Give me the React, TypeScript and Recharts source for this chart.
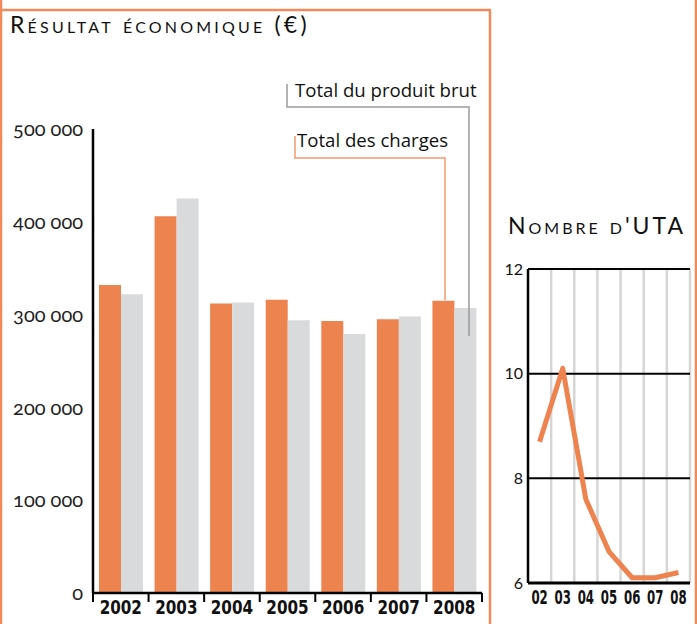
import { Bar, BarChart, CartesianGrid, Line, LineChart, XAxis, YAxis } from 'recharts';

const years = ['2002', '2003', '2004', '2005', '2006', '2007', '2008'];
const charges = [332000, 406000, 312000, 316000, 293000, 295000, 315000];
const produitBrut = [322000, 425000, 313000, 294000, 279000, 298000, 307000];
const resultTicks = [0, 100000, 200000, 300000, 400000, 500000];

const utaYears = ['02', '03', '04', '05', '06', '07', '08'];
const uta = [8.7, 10.1, 7.6, 6.6, 6.1, 6.1, 6.2];
const utaTicks = [6, 8, 10, 12];

const ORANGE = '#ED834F';
const GREY = '#D9DADC';
const FRAME = '#F08A5B';

const resultRows = years.map((year, i) => ({
    year,
    charges : charges[i],
    produit : produitBrut[i]
}));
const utaRows = utaYears.map((year, i) => ({ year, uta: uta[i] }));

const fmt = (v: number) => String(v).replace(/\B(?=(\d{3})+(?!\d))/g, ' ');

function YearTick(props: any) {
    const { x, y, payload, index } = props;
    const off = payload && payload.offset ? payload.offset : 27.8;
    return (
        <g>
            <line x1={x - off} y1={y} x2={x - off} y2={y + 9} stroke="#000" strokeWidth={2} />
            {index === years.length - 1 && (
                <line x1={x + off} y1={y} x2={x + off} y2={y + 9} stroke="#000" strokeWidth={2} />
            )}
            <text
                transform={`translate(${x},${y + 21}) scale(0.8,1)`}
                textAnchor="middle"
                fontFamily="'DejaVu Sans', sans-serif"
                fontWeight="bold"
                fontSize={19}
                fill="#111"
            >
                {payload.value}
            </text>
        </g>
    );
}

function ShortYearTick(props: any) {
    const { x, y, payload } = props;
    return (
        <text
            transform={`translate(${x},${y + 21}) scale(0.62,1)`}
            textAnchor="middle"
            fontFamily="'DejaVu Sans', sans-serif"
            fontWeight="bold"
            fontSize={19}
            fill="#111"
        >
            {payload.value}
        </text>
    );
}

// left chart plot: x 93 -> 482, y 129 -> 593
function ResultChart() {
    return (
        <BarChart
            width={490}
            height={624}
            data={resultRows}
            margin={{ top: 129, right: 8, bottom: 0, left: 0 }}
            barGap={0}
            barSize={22}
            style={{ position: 'absolute', left: 0, top: 0 }}
        >
            <XAxis
                dataKey="year"
                height={31}
                axisLine={{ stroke: '#000', strokeWidth: 2.5 }}
                tickLine={false}
                tickSize={0}
                tickMargin={0}
                interval={0}
                tick={<YearTick />}
            />
            <YAxis
                domain={[0, 500000]}
                ticks={resultTicks}
                width={93}
                axisLine={{ stroke: '#000', strokeWidth: 2.5 }}
                tickLine={false}
                tickSize={0}
                tickMargin={10}
                tickFormatter={fmt}
                tick={{
                    fill: '#222',
                    fontSize: 20,
                    fontFamily: 'Lato, sans-serif',
                    style: { fontVariantNumeric: 'oldstyle-nums' }
                }}
            />
            <Bar dataKey="charges" fill={ORANGE} isAnimationActive={false} />
            <Bar dataKey="produit" fill={GREY} isAnimationActive={false} />
        </BarChart>
    );
}

// right chart plot: x 528 -> 690, y 269 -> 583
function UtaChart() {
    const plotLeft = 38;
    const plotW = 162;
    const half = plotW / 14;
    const gridX = [1, 2, 3, 4, 5, 6, 7].map((i) => plotLeft + (plotW * i) / 7);
    return (
        <LineChart
            width={207}
            height={424}
            data={utaRows}
            margin={{ top: 69, right: 7, bottom: 0, left: 0 }}
            style={{ position: 'absolute', left: 490, top: 200 }}
        >
            <CartesianGrid
                horizontal={false}
                verticalPoints={gridX}
                stroke="#D6D6D6"
                strokeWidth={2.5}
            />
            <CartesianGrid vertical={false} stroke="#000" strokeWidth={2} />
            <XAxis
                dataKey="year"
                height={41}
                interval={0}
                padding={{ left: half, right: half }}
                axisLine={{ stroke: '#000', strokeWidth: 3 }}
                tickLine={false}
                tickSize={0}
                tickMargin={0}
                tick={<ShortYearTick />}
            />
            <YAxis
                domain={[6, 12]}
                ticks={utaTicks}
                width={38}
                axisLine={{ stroke: '#000', strokeWidth: 2.5 }}
                tickLine={false}
                tickSize={0}
                tickMargin={5}
                tick={{ fill: '#111', fontSize: 16, fontFamily: 'Lato, sans-serif' }}
            />
            <Line
                dataKey="uta"
                stroke={ORANGE}
                strokeWidth={5}
                dot={false}
                strokeLinejoin="round"
                isAnimationActive={false}
            />
        </LineChart>
    );
}

function Overlay() {
    const titleStyle = {
        fontFamily: 'Lato, sans-serif',
        fontVariant: 'small-caps'
    };
    return (
        <svg
            width={697}
            height={624}
            style={{ position: 'absolute', left: 0, top: 0, pointerEvents: 'none' }}
        >
            <g stroke={FRAME} strokeWidth={2.5} fill="none">
                <line x1={1} y1={0} x2={1} y2={624} />
                <line x1={0} y1={10} x2={491} y2={10} />
                <line x1={490} y1={10} x2={490} y2={624} />
                <line x1={696} y1={0} x2={696} y2={624} />
            </g>
            <text x={10} y={33} fontSize={23} fill="#111" letterSpacing={3.2} style={titleStyle}>
                Résultat économique (€)
            </text>
            <text x={508} y={234} fontSize={23} fill="#111" letterSpacing={3} style={titleStyle}>
                Nombre d'UTA
            </text>

            <polyline points="287,84 287,107 469,107 469,336" fill="none" stroke="#9A9A9A" strokeWidth={1.5} />
            <polyline points="295,136 295,158 445,158 445,300" fill="none" stroke="#F29A70" strokeWidth={1.5} />
            <text x={295} y={97} fontSize={18.6} fill="#111" fontFamily="'Open Sans', sans-serif">
                Total du produit brut
            </text>
            <text x={297} y={147} fontSize={18.6} fill="#111" fontFamily="'Open Sans', sans-serif">
                Total des charges
            </text>
        </svg>
    );
}

export default function App() {
    return (
        <div style={{ position: 'absolute', left: 0, top: 0, width: 697, height: 624, background: '#fff' }}>
            <ResultChart />
            <UtaChart />
            <Overlay />
        </div>
    );
}
